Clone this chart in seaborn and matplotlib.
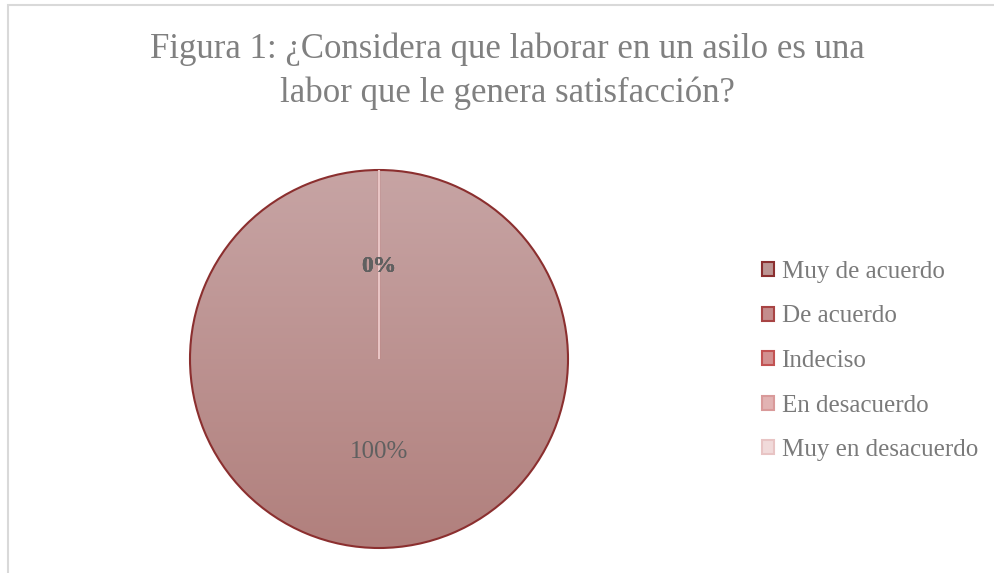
import numpy as np
import matplotlib
matplotlib.use("Agg")
import matplotlib.pyplot as plt
import seaborn as sns
from matplotlib.patches import Patch, Rectangle
from matplotlib.colors import LinearSegmentedColormap

# chart data
categorias = ["Muy de acuerdo", "De acuerdo", "Indeciso", "En desacuerdo", "Muy en desacuerdo"]
porcentajes = [100, 0, 0, 0, 0]
titulo = "Figura 1: ¿Considera que laborar en un asilo es una\nlabor que le genera satisfacción?"

relleno = ["#bc9593", "#c48c8c", "#d39090", "#e2b3b3", "#f1dada"]
bordes = ["#8b2f2f", "#a84444", "#c25252", "#d99a9a", "#e8c4c4"]

sns.set_theme(style="white")
plt.rcParams["font.family"] = ["Liberation Serif", "DejaVu Serif"]

fig = plt.figure(figsize=(9.94, 5.73), dpi=100)
fig.patch.set_facecolor("white")

# light frame of the chart area
fig.patches.append(Rectangle((8 / 994, -0.05), 1.2, (573 - 5) / 573 + 0.05,
                             transform=fig.transFigure, fill=False,
                             edgecolor="#d9d9d9", lw=1.5))

cx, cy, r = 379, 359, 189 * 1.02
ax = fig.add_axes([(cx - r) / 994, (573 - cy - r) / 573, 2 * r / 994, 2 * r / 573])
wedges, textos, autotextos = ax.pie(
    porcentajes, colors=relleno, startangle=90, counterclock=False,
    autopct="%1.0f%%", pctdistance=0.49, radius=1,
    wedgeprops=dict(linewidth=1.5),
    textprops=dict(color="#606060", fontsize=18))
for w, ec in zip(wedges, bordes):
    w.set_edgecolor(ec)

# vertical gradient inside the full slice
grad = np.linspace(0, 1, 256).reshape(-1, 1)
cmap = LinearSegmentedColormap.from_list("g", ["#c7a4a4", "#b1807d"])
img = ax.imshow(grad, extent=[-1, 1, -1, 1], cmap=cmap, aspect="auto", origin="upper", zorder=0)
img.set_clip_path(wedges[0])
wedges[0].set_facecolor("none")
for w in wedges[1:]:
    w.set_zorder(2)
for t in autotextos:
    t.set_zorder(5)
for t in autotextos[1:]:
    t.set_fontweight("bold")
    t.set_fontsize(17)
ax.set_xlim(-1.02, 1.02)
ax.set_ylim(-1.02, 1.02)
ax.axis("off")

fig.text(507 / 994, 1 - 71 / 573, titulo, ha="center", va="center",
         fontsize=25, color="#808080", linespacing=1.4)

manijas = [Patch(facecolor=f, edgecolor=e, linewidth=1.5) for f, e in zip(relleno, bordes)]
fig.legend(manijas, categorias, loc="center left", bbox_to_anchor=(739 / 994, 1 - 361 / 573),
           frameon=False, fontsize=18, labelcolor="#7a7a7a",
           handlelength=0.5, handleheight=0.5, handletextpad=0.3, labelspacing=0.9)

fig.savefig("out.png", dpi=100)
